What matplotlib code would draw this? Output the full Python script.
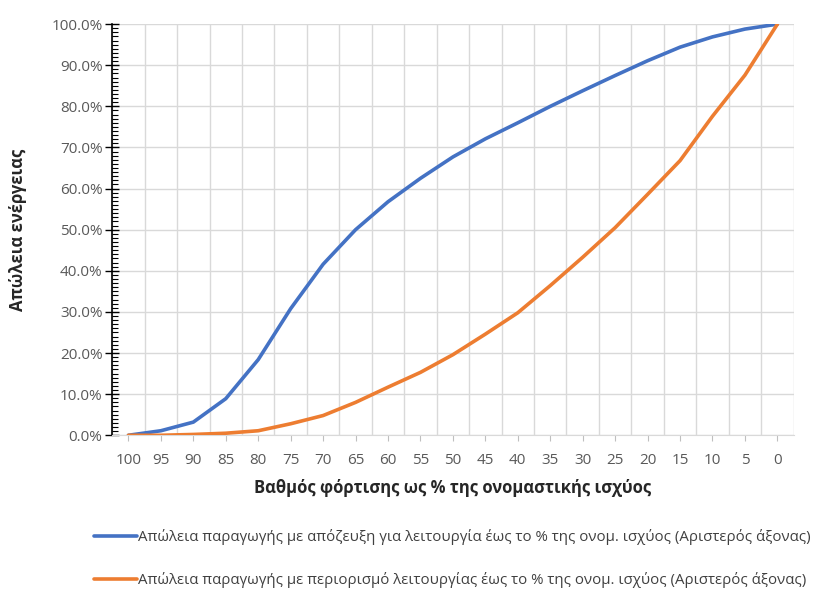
#!/usr/bin/env python3
"""Energy loss vs load factor (Greek labels)."""

import matplotlib
matplotlib.use("Agg")
import matplotlib.pyplot as plt
from matplotlib.ticker import FixedLocator, MultipleLocator, PercentFormatter

plt.rcParams["font.family"] = ["Open Sans", "DejaVu Sans"]

# Load factor categories (% of nominal power)
categories = [100, 95, 90, 85, 80, 75, 70, 65, 60, 55, 50,
              45, 40, 35, 30, 25, 20, 15, 10, 5, 0]

# Loss with curtailment by disconnection (%)
loss_disconnect = [0.0, 1.1, 3.2, 8.9, 18.4, 30.8, 41.6, 50.0, 56.8, 62.5, 67.7,
                   72.1, 76.0, 80.0, 83.8, 87.5, 91.1, 94.4, 96.9, 98.8, 100.0]

# Loss with operating limitation (%)
loss_limit = [0.0, 0.0, 0.2, 0.5, 1.1, 2.8, 4.8, 8.0, 11.7, 15.3, 19.6,
              24.6, 29.8, 36.4, 43.3, 50.5, 58.6, 66.8, 77.6, 87.6, 100.0]

labels = [
    "Απώλεια παραγωγής με απόζευξη για λειτουργία έως το % της ονομ. ισχύος (Αριστερός άξονας)",
    "Απώλεια παραγωγής με περιορισμό λειτουργίας έως το % της ονομ. ισχύος (Αριστερός άξονας)",
]

fig = plt.figure(figsize=(8.19, 5.89), dpi=100)
ax = fig.add_axes([0.137, 0.261, 0.832, 0.698])

x = list(range(len(categories)))
ax.plot(x, loss_disconnect, color="#4472C4", lw=2.6, label=labels[0],
        solid_capstyle="round", zorder=3)
ax.plot(x, loss_limit, color="#ED7D31", lw=2.6, label=labels[1],
        solid_capstyle="round", zorder=3)

ax.set_xlim(-0.5, len(categories) - 0.5)
ax.set_ylim(0, 100)

# x: ticks at categories, grid between categories
ax.set_xticks(x)
ax.set_xticklabels([str(c) for c in categories])
ax.xaxis.set_minor_locator(FixedLocator([i + 0.5 for i in range(-1, len(categories))]))
ax.grid(True, which="minor", axis="x", color="#D9D9D9", lw=1)
ax.grid(True, which="major", axis="y", color="#D9D9D9", lw=1)
ax.tick_params(axis="x", which="major", length=4, color="#BFBFBF",
               labelsize=11, labelcolor="#595959", pad=9)
ax.tick_params(axis="x", which="minor", length=0)

# y: percent labels, major ticks crossing, minor ticks inside
ax.yaxis.set_major_locator(MultipleLocator(10))
ax.yaxis.set_minor_locator(MultipleLocator(1))
ax.yaxis.set_major_formatter(PercentFormatter(decimals=1))
ax.tick_params(axis="y", which="major", direction="inout", length=10, width=1,
               color="black", labelsize=11, labelcolor="#595959", pad=2)
ax.tick_params(axis="y", which="minor", direction="in", length=4, width=0.8,
               color="black")

for side in ("top", "right"):
    ax.spines[side].set_visible(False)
ax.spines["left"].set_color("black")
ax.spines["left"].set_linewidth(1.2)
ax.spines["bottom"].set_color("#D9D9D9")
ax.set_axisbelow(True)

ax.set_xlabel("Βαθμός φόρτισης ως % της ονομαστικής ισχύος", fontsize=12,
              fontweight="bold", color="#262626", labelpad=8)
fig.text(18 / 819, 1 - 230 / 589, "Απώλεια ενέργειας", rotation=90,
         ha="center", va="center", fontsize=12, fontweight="bold",
         color="#262626")

fig.legend(loc="upper left", bbox_to_anchor=(0.108, 0.112), frameon=False,
           fontsize=10.85, labelcolor="#404040", handlelength=2.8,
           handletextpad=0.1, labelspacing=1.8, borderaxespad=0)

fig.savefig("out.png", dpi=100)
